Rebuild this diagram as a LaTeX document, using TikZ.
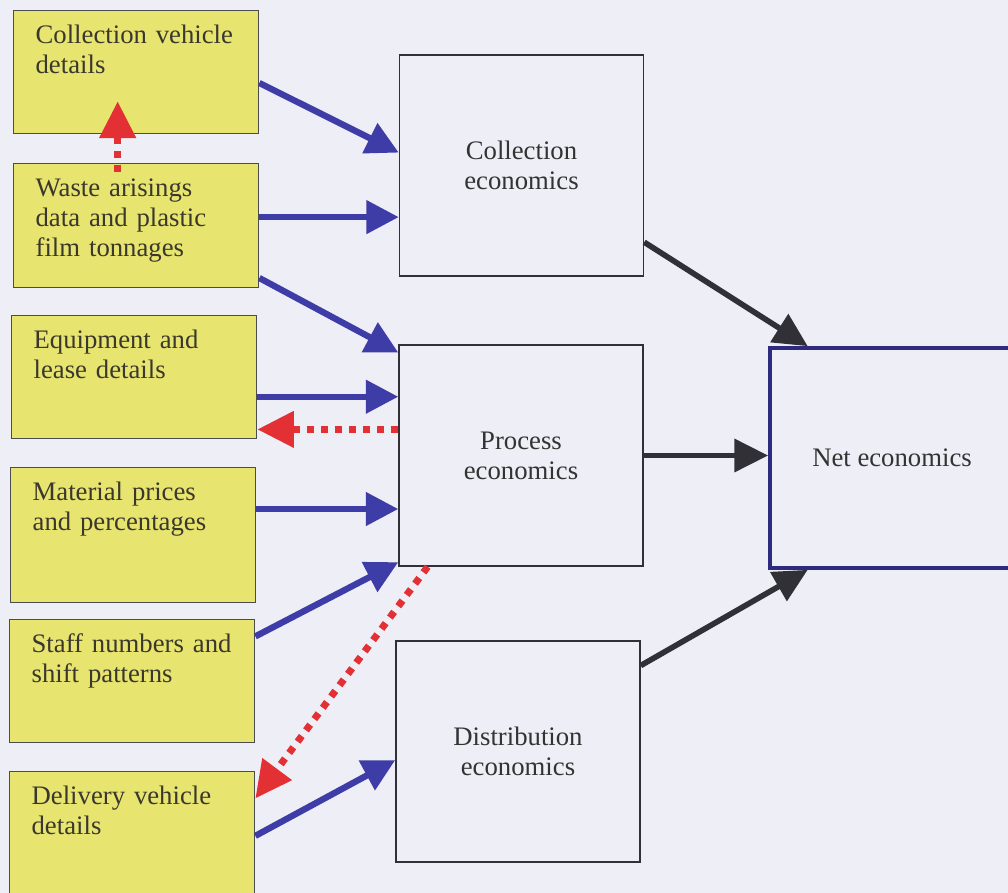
\documentclass[tikz,border=0pt]{standalone}
\usepackage{fontspec}
\setmainfont{Liberation Serif}
\usetikzlibrary{arrows.meta,calc}

\definecolor{pagebg}{RGB}{238,238,246}
\definecolor{inyellow}{RGB}{232,228,112}
\definecolor{inblue}{RGB}{62,60,166}
\definecolor{inred}{RGB}{226,48,52}
\definecolor{netblue}{RGB}{46,42,126}
\definecolor{darkline}{RGB}{48,48,54}

\begin{document}
\begin{tikzpicture}[x=0.025cm, y=-0.025cm,
      inbox/.style={draw=black!70, line width=1pt, fill=inyellow, anchor=north west,
        text width=143pt, align=left, inner xsep=15.6pt, inner ysep=10pt,
        text height=13pt, text depth=#1, text={rgb,255:red,58;green,56;blue,44},
        font=\fontsize{19}{21.5}\selectfont},
      inbox/.default=54.5pt,
      econbox/.style={draw=darkline, line width=1pt, minimum width=6.1cm, minimum height=5.525cm,
        align=center, text=black!80, font=\fontsize{19}{21.5}\selectfont},
      feed/.style={-{Triangle[length=23pt,width=23pt]}, line width=4.5pt, inblue},
      back/.style={-{Triangle[length=26pt,width=25pt]}, line width=5pt, inred, dash pattern=on 5pt off 5pt},
      result/.style={-{Triangle[length=24pt,width=23pt]}, line width=4pt, darkline}]

    %page
    \clip (0,0) rectangle (1008,893);
    \fill[pagebg] (0,0) rectangle (1008,893);

    %draw input boxes
    \node[inbox] (cveh) at (13,10) {Collection vehicle\\details};
    \node[inbox=55.2pt] (waste) at (13,163) {Waste arisings\\data and plastic\\film tonnages};
    \node[inbox] (equip) at (11,315) {Equipment and\\lease details};
    \node[inbox=63pt] (matl) at (10,467) {Material prices\\and percentages};
    \node[inbox] (staff) at (9,619) {Staff numbers and\\shift patterns};
    \node[inbox=55.2pt] (dveh) at (9,771) {Delivery vehicle\\details};

    %draw economics boxes
    \node[econbox] (colecon) at (521.5,165.5) {Collection\\economics};
    \node[econbox] (proc) at (521,455.5) {Process\\economics};
    \node[econbox] (dist) at (518,751.5) {Distribution\\economics};
    \node[econbox, draw=netblue, line width=2.6pt, minimum width=6.1cm, minimum height=5.5cm] (net) at (892,458) {Net economics};

    %inputs into the economics boxes
    \draw[feed] (cveh.-5) -- (colecon.174);
    \draw[feed] (waste.4) -- (waste.4 -| colecon.west);
    \draw[feed] (waste.-23) -- (proc.140);
    \draw[feed] (equip.-9) -- (equip.-9 -| proc.west);
    \draw[feed] (matl.12) -- (matl.12 -| proc.west);
    \draw[feed] (staff.20) -- (proc.221);
    \draw[feed] (dveh.-1) -- (dist.184);

    %feedback links
    \draw[back] ($(waste.north)+(-18.5,9)$) -- ($(cveh.south)+(-18.5,-33)$);
    \draw[back] (proc.168) -- (proc.168 -| equip.east);
    \draw[back] (proc.230) -- (dveh.16);

    %into net economics
    \draw[result] (colecon.-32) -- (net.127);
    \draw[result] (proc.east) -- (proc.east -| net.west);
    \draw[result] (dist.35) -- (net.233);

  \end{tikzpicture}
\end{document}
